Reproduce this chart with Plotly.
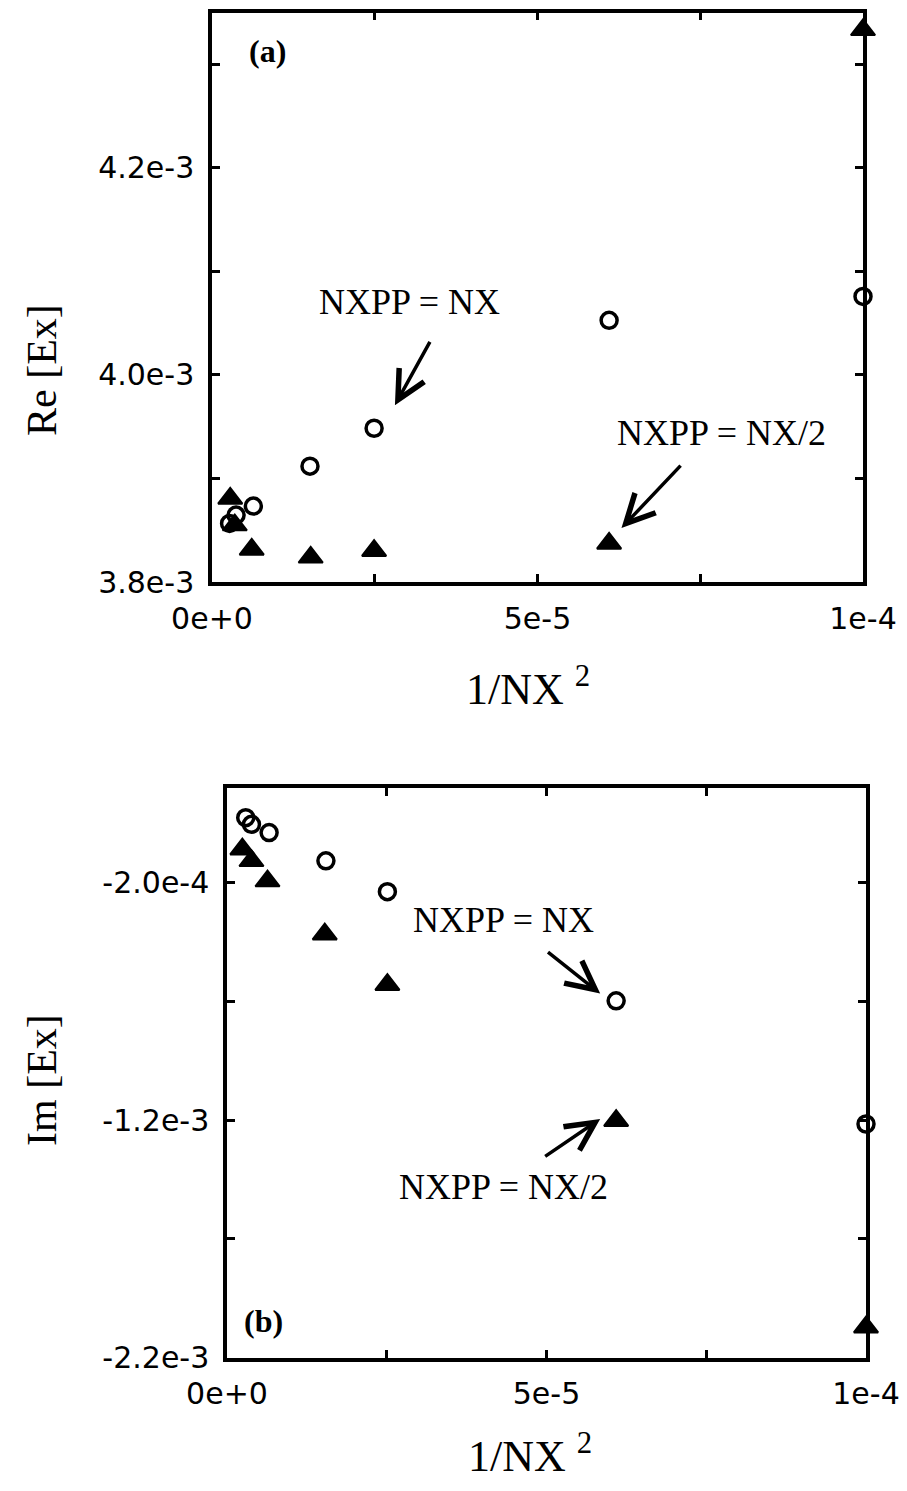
import plotly.graph_objects as go

# ---------------- data ----------------
# Panel (a): Re[Ex] vs 1/NX^2
a_circ_x = [1.0e-4, 6.1e-5, 2.49e-5, 1.505e-5, 6.35e-6, 3.7e-6, 2.7e-6]
a_circ_y = [4.0758e-3, 4.0527e-3, 3.9485e-3, 3.9119e-3, 3.8733e-3, 3.8646e-3, 3.8566e-3]
a_tri_x = [1.0e-4, 6.1e-5, 2.49e-5, 1.516e-5, 6.1e-6, 3.5e-6, 2.8e-6]
a_tri_y = [4.3333e-3, 3.8373e-3, 3.8302e-3, 3.8238e-3, 3.8315e-3, 3.855e-3, 3.8807e-3]

# Panel (b): Im[Ex] vs 1/NX^2
b_circ_x = [1.0e-4, 6.09e-5, 2.51e-5, 1.548e-5, 6.59e-6, 3.83e-6, 2.93e-6]
b_circ_y = [-1.216e-3, -6.97e-4, -2.37e-4, -1.07e-4, 1.2e-5, 4.7e-5, 7.5e-5]
b_tri_x = [1.0e-4, 6.09e-5, 2.51e-5, 1.53e-5, 6.34e-6, 3.83e-6, 2.4e-6]
b_tri_y = [-2.072e-3, -1.202e-3, -6.29e-4, -4.16e-4, -1.92e-4, -1.07e-4, -5.8e-5]

x_tickvals = [0, 2.5e-5, 5e-5, 7.5e-5, 1e-4]
x_ticktext = ["0e+0", "", "5e-5", "", "1e-4"]
a_y_tickvals = [3.8e-3, 3.9e-3, 4.0e-3, 4.1e-3, 4.2e-3, 4.3e-3]
a_y_ticktext = ["3.8e-3", "", "4.0e-3", "", "4.2e-3", ""]
b_y_tickvals = [-2.2e-3, -1.7e-3, -1.2e-3, -7e-4, -2e-4]
b_y_ticktext = ["-2.2e-3", "", "-1.2e-3", "", "-2.0e-4"]

# ---------------- figure ----------------
W, H = 907, 1491
OFF = 8  # default page (body) margin of the html page

fig = go.Figure()

circ_style = dict(symbol="circle-open", size=16, color="black", line=dict(width=3.5, color="black"))
tri_style = dict(symbol="triangle-up", size=21, color="black", line=dict(width=2, color="black"))

fig.add_trace(go.Scatter(x=a_circ_x, y=a_circ_y, mode="markers", marker=circ_style,
                         xaxis="x", yaxis="y", cliponaxis=False, showlegend=False))
fig.add_trace(go.Scatter(x=a_tri_x, y=a_tri_y, mode="markers", marker=tri_style,
                         xaxis="x", yaxis="y", cliponaxis=False, showlegend=False))
fig.add_trace(go.Scatter(x=b_circ_x, y=b_circ_y, mode="markers", marker=circ_style,
                         xaxis="x2", yaxis="y2", cliponaxis=False, showlegend=False))
fig.add_trace(go.Scatter(x=b_tri_x, y=b_tri_y, mode="markers", marker=tri_style,
                         xaxis="x2", yaxis="y2", cliponaxis=False, showlegend=False))

tick_font = dict(family="DejaVu Sans", size=30, color="black")
axis_common = dict(showline=True, linewidth=3.5, linecolor="black", mirror="allticks",
                   ticks="inside", ticklen=8, tickwidth=2.5, tickcolor="black",
                   showgrid=False, zeroline=False, tickfont=tick_font, tickmode="array",
                   automargin=False)


def px_x(p):
    return (p - OFF) / W


def px_y(p):
    return 1 - (p - OFF) / H


fig.update_layout(
    width=W, height=H,
    margin=dict(l=0, r=0, t=0, b=0),
    paper_bgcolor="white", plot_bgcolor="white",
    xaxis=dict(domain=[px_x(212), px_x(863)], range=[0, 1e-4], anchor="y",
               tickvals=x_tickvals, ticktext=x_ticktext, ticklabelstandoff=7, **axis_common),
    yaxis=dict(domain=[px_y(582), px_y(12.5)], range=[3.8e-3, 4.35e-3], anchor="x",
               tickvals=a_y_tickvals, ticktext=a_y_ticktext, ticklabelstandoff=8, **axis_common),
    xaxis2=dict(domain=[px_x(227), px_x(866)], range=[0, 1e-4], anchor="y2",
                tickvals=x_tickvals, ticktext=x_ticktext, ticklabelstandoff=7, **axis_common),
    yaxis2=dict(domain=[px_y(1357.5), px_y(788)], range=[-2.2e-3, 2e-4], anchor="x2",
                tickvals=b_y_tickvals, ticktext=b_y_ticktext, ticklabelstandoff=8, **axis_common),
)

serif = "Liberation Serif"
label_font = dict(family=serif, size=36, color="black")
title_font = dict(family=serif, size=42, color="black")
xtitle_font = dict(family=serif, size=44, color="black")

C = dict(xanchor="center", yanchor="middle", showarrow=False)
arrow = dict(text="", showarrow=True, arrowhead=5, arrowsize=1.6, arrowwidth=3.5,
             arrowcolor="black")

annotations = [
    # panel letters
    dict(text="<b>(a)</b>", x=px_x(267), y=px_y(51), xref="paper", yref="paper",
         font=dict(family=serif, size=32, color="black"), **C),
    dict(text="<b>(b)</b>", x=px_x(263), y=px_y(1321), xref="paper", yref="paper",
         font=dict(family=serif, size=32, color="black"), **C),
    # axis titles
    dict(text="Re [Ex]", x=px_x(42), y=px_y(370), xref="paper", yref="paper",
         textangle=-90, font=title_font, **C),
    dict(text="Im [Ex]", x=px_x(42), y=px_y(1080), xref="paper", yref="paper",
         textangle=-90, font=title_font, **C),
    dict(text="1/NX <sup>2</sup>", x=px_x(528), y=px_y(686), xref="paper", yref="paper",
         font=xtitle_font, **C),
    dict(text="1/NX <sup>2</sup>", x=px_x(530), y=px_y(1453), xref="paper", yref="paper",
         font=xtitle_font, **C),
    # panel (a) labels
    dict(text="NXPP = NX", x=3.03e-5, y=4.07e-3, xref="x", yref="y",
         font=label_font, **C),
    dict(x=2.81e-5, y=3.9707e-3, ax=3.36e-5, ay=4.0334e-3,
         xref="x", yref="y", axref="x", ayref="y", **arrow),
    dict(text="NXPP = NX/2", x=7.82e-5, y=3.9437e-3, xref="x", yref="y",
         font=label_font, **C),
    dict(x=6.29e-5, y=3.8521e-3, ax=7.22e-5, ay=3.9138e-3,
         xref="x", yref="y", axref="x", ayref="y", **arrow),
    # panel (b) labels
    dict(text="NXPP = NX", x=4.33e-5, y=-3.571e-4, xref="x2", yref="y2",
         font=label_font, **C),
    dict(x=5.84e-5, y=-6.66e-4, ax=5.0e-5, ay=-4.863e-4,
         xref="x2", yref="y2", axref="x2", ayref="y2", **arrow),
    dict(text="NXPP = NX/2", x=4.33e-5, y=-1.483e-3, xref="x2", yref="y2",
         font=label_font, **C),
    dict(x=5.84e-5, y=-1.195e-3, ax=4.956e-5, ay=-1.3566e-3,
         xref="x2", yref="y2", axref="x2", ayref="y2", **arrow),
]
fig.update_layout(annotations=annotations)

fig.write_html("out.html")
